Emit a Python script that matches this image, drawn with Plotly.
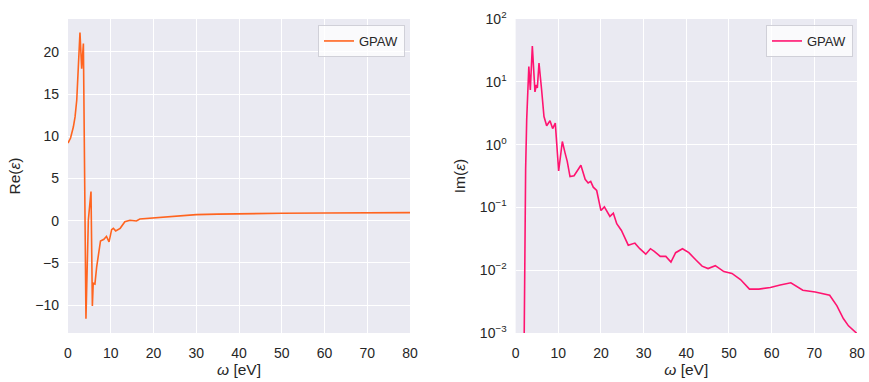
import plotly.graph_objects as go

# Real part of the dielectric function (GPAW)
omega_re = [0.0, 0.6, 1.25, 1.65, 2.05, 2.4, 2.8, 3.2, 3.6, 4.2, 4.76, 5.38, 5.7,
            5.9, 6.3, 6.7, 7.1, 7.6, 8.4, 9.0, 9.6, 10.2, 10.6, 11.15, 12.2, 13.3,
            14.5, 16.0, 16.8, 18.0, 19.9, 23.0, 26.1, 30.0, 35.0, 40.0, 50.0, 60.0,
            70.0, 80.0]
eps_re = [9.2, 9.8, 11.1, 12.3, 14.3, 18.2, 22.3, 18.0, 21.0, -11.6, 0.1, 3.46, -10.1,
          -7.4, -7.5, -5.5, -3.8, -2.4, -2.2, -1.85, -2.5, -1.06, -0.9, -1.2, -0.9, -0.12,
          0.05, -0.03, 0.2, 0.25, 0.35, 0.5, 0.63, 0.72, 0.78, 0.83, 0.88, 0.91,
          0.94, 0.96]

# Imaginary part of the dielectric function (GPAW)
omega_im = [2.0, 2.15, 2.35, 2.6, 2.97, 3.1, 3.45, 3.92, 4.54, 4.85, 5.1, 5.48, 6.1,
            6.65, 7.28, 8.06, 8.68, 9.3, 10.09, 10.95, 11.6, 12.1, 12.75, 13.7, 15.3,
            16.3, 17.0, 17.6, 18.2, 19.0, 20.0, 20.8, 22.1, 22.9, 23.7, 24.8, 26.4,
            27.95, 29.1, 30.5, 31.6, 32.5, 33.9, 35.2, 36.4, 37.5, 39.1, 40.6, 42.2,
            43.7, 45.1, 46.8, 48.8, 50.7, 52.7, 54.8, 57.0, 59.7, 62.0, 64.5, 67.3,
            70.2, 73.6, 75.3, 76.8, 78.0, 80.0]
eps_im = [0.0007, 0.02, 0.4, 2.5, 17.0, 17.5, 7.4, 37.0, 6.9, 8.9, 8.0, 19.9, 7.4,
          2.8, 2.0, 2.4, 1.8, 2.2, 0.38, 1.12, 0.73, 0.54, 0.31, 0.32, 0.47,
          0.28, 0.245, 0.26, 0.21, 0.186, 0.089, 0.102, 0.072, 0.081, 0.055, 0.043, 0.025,
          0.027, 0.022, 0.018, 0.022, 0.020, 0.0166, 0.0166, 0.0135, 0.019, 0.022, 0.019, 0.0147,
          0.0116, 0.0106, 0.0118, 0.0095, 0.0089, 0.0071, 0.005, 0.005, 0.0053, 0.0058, 0.0063, 0.0048,
          0.0045, 0.004, 0.0027, 0.0017, 0.0013, 0.00098]

x_ticks = [0, 10, 20, 30, 40, 50, 60, 70, 80]
re_ticks = [-10, -5, 0, 5, 10, 15, 20]
im_tickvals = [1e-3, 1e-2, 1e-1, 1e0, 1e1, 1e2]
im_ticktext = ["10<sup>−3</sup>", "10<sup>−2</sup>", "10<sup>−1</sup>",
               "10<sup>0</sup>", "10<sup>1</sup>", "10<sup>2</sup>"]

FONT = "Liberation Sans, Arial, sans-serif"
TEXT = "#262626"
BG = "#EAEAF2"

fig = go.Figure()
fig.add_trace(go.Scatter(x=omega_re, y=eps_re, mode="lines", name="GPAW",
                         line=dict(color="#FF641F", width=1.6),
                         xaxis="x", yaxis="y", legend="legend"))
fig.add_trace(go.Scatter(x=omega_im, y=eps_im, mode="lines", name="GPAW",
                         line=dict(color="#FF1470", width=1.6),
                         xaxis="x2", yaxis="y2", legend="legend2"))

common_axis = dict(showline=False, ticks="", gridcolor="white", gridwidth=1,
                   zeroline=False, automargin=False,
                   tickfont=dict(family=FONT, size=14, color=TEXT))
x_axis = dict(ticklabelstandoff=10, **common_axis)
y_axis = dict(ticklabelstandoff=8, **common_axis)
title_font = dict(family=FONT, size=15.5, color=TEXT)

legend_style = dict(bgcolor="rgba(255,255,255,0.75)", bordercolor="#D0D0D8",
                    borderwidth=1, font=dict(family=FONT, size=13, color=TEXT),
                    xanchor="right", yanchor="top", tracegroupgap=0)

fig.update_layout(
    width=869, height=382,
    margin=dict(l=0, r=0, t=0, b=0, autoexpand=False),
    paper_bgcolor="white", plot_bgcolor=BG,
    showlegend=True,
    xaxis=dict(domain=[68 / 869, 410 / 869], range=[0, 80], tickvals=x_ticks,
               title=dict(text="<i>ω</i> [eV]", font=title_font, standoff=4),
               anchor="y", **x_axis),
    yaxis=dict(domain=[49 / 382, 363 / 382], range=[-13.3, 23.9], tickvals=re_ticks,
               title=dict(text="Re(<i>ε</i>)", font=title_font, standoff=10),
               anchor="x", **y_axis),
    xaxis2=dict(domain=[515.6 / 869, 857 / 869], range=[0, 80], tickvals=x_ticks,
                title=dict(text="<i>ω</i> [eV]", font=title_font, standoff=4),
                anchor="y2", **x_axis),
    yaxis2=dict(domain=[49 / 382, 363 / 382], type="log", range=[-3, 2],
                tickvals=im_tickvals, ticktext=im_ticktext,
                title=dict(text="Im(<i>ε</i>)", font=title_font, standoff=10),
                anchor="x2", **y_axis),
    legend=dict(x=405 / 869, y=357 / 382, **legend_style),
    legend2=dict(x=853 / 869, y=357 / 382, **legend_style),
)

fig.write_html("out.html")
